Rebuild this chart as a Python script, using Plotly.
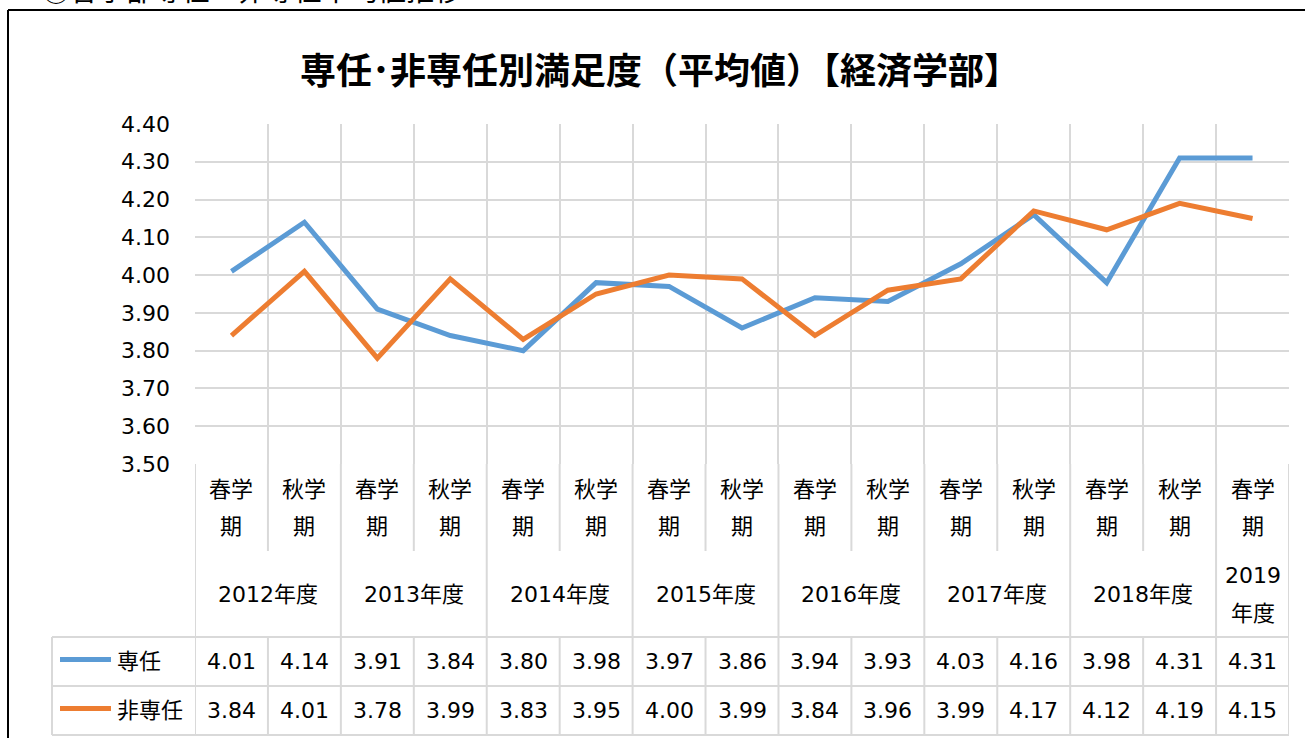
import plotly.graph_objects as go

# ---- data ----
seasons = ["春学期", "秋学期", "春学期", "秋学期", "春学期", "秋学期", "春学期", "秋学期",
           "春学期", "秋学期", "春学期", "秋学期", "春学期", "秋学期", "春学期"]
years = ["2012年度", "2013年度", "2014年度", "2015年度", "2016年度", "2017年度", "2018年度", "2019年度"]
year_spans = [2, 2, 2, 2, 2, 2, 2, 1]
series_names = ["専任", "非専任"]
sennin = [4.01, 4.14, 3.91, 3.84, 3.80, 3.98, 3.97, 3.86, 3.94, 3.93, 4.03, 4.16, 3.98, 4.31, 4.31]
hisennin = [3.84, 4.01, 3.78, 3.99, 3.83, 3.95, 4.00, 3.99, 3.84, 3.96, 3.99, 4.17, 4.12, 4.19, 4.15]
y_ticks = [3.5, 3.6, 3.7, 3.8, 3.9, 4.0, 4.1, 4.2, 4.3, 4.4]
title_text = "専任･非専任別満足度（平均値）【経済学部】"
header_text = "①各学部専任・非専任平均値推移"

colors = ["#5B9BD5", "#ED7D31"]
W, H = 1305, 738
GRID = "#D9D9D9"
FONT = "DejaVu Sans, Noto Sans CJK JP, sans-serif"
JFONT = "Noto Sans CJK JP, sans-serif"


def px(x):
    return x / W


def py(y):
    return 1 - y / H


n = len(seasons)
xs = list(range(n))

fig = go.Figure()
# header text (partly cut off at the top edge, as in the source image) on a page-pixel overlay axis
fig.add_trace(go.Scatter(x=[252], y=[8], xaxis="x2", yaxis="y2", mode="text", text=[header_text],
                         textposition="top center", cliponaxis=False, hoverinfo="skip",
                         textfont=dict(family=JFONT, size=28, color="black")))

for name, vals, c in zip(series_names, [sennin, hisennin], colors):
    fig.add_trace(go.Scatter(x=xs, y=vals, mode="lines", name=name,
                             line=dict(color=c, width=5), hoverinfo="y"))

# plot area
PL, PR, PT, PB = 195, 1289, 124, 464
# table rows (pixel y)
R_SEASON_BOT = 551
R_YEAR_BOT = 637
R_S1_BOT = 686
R_S2_BOT = 735
LEG_LEFT = 52

shapes = []
ann = []

# outer frame
shapes.append(dict(type="line", xref="paper", yref="paper", x0=px(8), x1=px(1310), y0=py(10), y1=py(10),
                   line=dict(color="black", width=2)))
shapes.append(dict(type="line", xref="paper", yref="paper", x0=px(8), x1=px(8), y0=py(10), y1=py(745),
                   line=dict(color="black", width=2)))

gl = dict(color=GRID, width=2)
# horizontal table lines
shapes.append(dict(type="line", xref="paper", yref="paper", x0=px(LEG_LEFT), x1=px(PR), y0=py(R_YEAR_BOT), y1=py(R_YEAR_BOT), line=gl))
shapes.append(dict(type="line", xref="paper", yref="paper", x0=px(LEG_LEFT), x1=px(PR), y0=py(R_S1_BOT), y1=py(R_S1_BOT), line=gl))
shapes.append(dict(type="line", xref="paper", yref="paper", x0=px(LEG_LEFT), x1=px(PR), y0=py(R_S2_BOT), y1=py(R_S2_BOT), line=gl))
shapes.append(dict(type="line", xref="paper", yref="paper", x0=px(LEG_LEFT), x1=px(LEG_LEFT), y0=py(R_YEAR_BOT), y1=py(R_S2_BOT), line=gl))

# vertical lines: season row + series rows at every boundary
for i in range(n + 1):
    b = i - 0.5
    shapes.append(dict(type="line", xref="x", yref="paper", x0=b, x1=b, y0=py(PB), y1=py(R_SEASON_BOT), line=gl))
    shapes.append(dict(type="line", xref="x", yref="paper", x0=b, x1=b, y0=py(R_YEAR_BOT), y1=py(R_S2_BOT), line=gl))
# year boundaries in year row
pos = 0
bounds = [-0.5]
for s in year_spans:
    pos += s
    bounds.append(pos - 0.5)
for b in bounds:
    shapes.append(dict(type="line", xref="x", yref="paper", x0=b, x1=b, y0=py(R_SEASON_BOT), y1=py(R_YEAR_BOT), line=gl))

tf = dict(family=FONT, size=22, color="black")
# season labels
for i, s in enumerate(seasons):
    ann.append(dict(x=i, y=py(489), xref="x", yref="paper", text=s[:2], showarrow=False, font=tf,
                    xanchor="center", yanchor="middle"))
    ann.append(dict(x=i, y=py(526), xref="x", yref="paper", text=s[2:], showarrow=False, font=tf,
                    xanchor="center", yanchor="middle"))
# year labels
start = 0
for yname, s in zip(years, year_spans):
    cx = start + (s - 1) / 2
    if s == 1:
        ann.append(dict(x=cx, y=py(575), xref="x", yref="paper", text=yname[:4], showarrow=False, font=tf,
                        xanchor="center", yanchor="middle"))
        ann.append(dict(x=cx, y=py(613), xref="x", yref="paper", text=yname[4:], showarrow=False, font=tf,
                        xanchor="center", yanchor="middle"))
    else:
        ann.append(dict(x=cx, y=py(594), xref="x", yref="paper", text=yname, showarrow=False, font=tf,
                        xanchor="center", yanchor="middle"))
    start += s

# series rows
row_centers = [(R_YEAR_BOT + R_S1_BOT) / 2, (R_S1_BOT + R_S2_BOT) / 2]
for name, vals, c, rc in zip(series_names, [sennin, hisennin], colors, row_centers):
    shapes.append(dict(type="line", xref="paper", yref="paper", x0=px(60), x1=px(111), y0=py(rc - 2), y1=py(rc - 2),
                       line=dict(color=c, width=5)))
    ann.append(dict(x=px(115), y=py(rc), xref="paper", yref="paper", text=name, showarrow=False, font=tf,
                    xanchor="left", yanchor="middle"))
    for i, v in enumerate(vals):
        ann.append(dict(x=i, y=py(rc), xref="x", yref="paper", text=f"{v:.2f}", showarrow=False, font=tf,
                        xanchor="center", yanchor="middle"))

# title
ann.append(dict(x=px(660), y=py(68), xref="paper", yref="paper", text=f"<b>{title_text}</b>", showarrow=False,
                font=dict(family=JFONT, size=36, color="black"), xanchor="center", yanchor="middle"))

fig.update_layout(
    width=W, height=H,
    margin=dict(l=0, r=0, t=0, b=0, autoexpand=False),
    paper_bgcolor="white", plot_bgcolor="rgba(0,0,0,0)",
    showlegend=False,
    shapes=shapes, annotations=ann,
    xaxis=dict(domain=[px(PL), px(PR)], range=[-0.5, n - 0.5], tickvals=[i - 0.5 for i in range(n + 1)],
               showticklabels=False, showgrid=True, gridcolor=GRID, gridwidth=2, zeroline=False,
               showline=False, ticks=""),
    yaxis=dict(domain=[py(PB), py(PT)], range=[3.5, 4.4], tickvals=y_ticks, tickformat=".2f",
               showgrid=True, gridcolor=GRID, gridwidth=2, zeroline=False, showline=False,
               ticks="", ticklabelstandoff=24, tickfont=dict(family=FONT, size=22, color="black")),
    xaxis2=dict(domain=[0, 1], range=[0, W], visible=False, anchor="y2", fixedrange=True),
    yaxis2=dict(domain=[0, 1], range=[H, 0], visible=False, anchor="x2", fixedrange=True),
)

fig.write_html("out.html", config={"displayModeBar": False},
               post_script="document.body.style.margin='0';document.body.style.overflow='hidden';")
